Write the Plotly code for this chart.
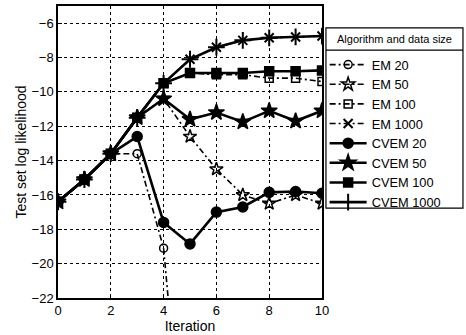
import plotly.graph_objects as go

iterations = list(range(11))
em20 = [-16.4, -15.1, -13.6, -13.6, -19.1, -36.0]
em50 = [-16.4, -15.1, -13.6, -11.5, -10.4, -12.6, -14.5, -16.0, -16.5, -16.0, -16.5]
em100 = [-16.4, -15.1, -13.6, -11.5, -9.5, -8.9, -9.0, -9.0, -9.2, -9.2, -9.4]
em1000 = [-16.4, -15.1, -13.6, -11.5, -9.5, -8.1, -7.4, -7.0, -6.85, -6.8, -6.75]
cvem20 = [-16.4, -15.1, -13.6, -12.6, -17.6, -18.85, -17.0, -16.7, -15.85, -15.8, -15.9]
cvem50 = [-16.4, -15.1, -13.6, -11.5, -10.4, -11.6, -11.2, -11.75, -11.1, -11.7, -11.1]
cvem100 = [-16.4, -15.1, -13.6, -11.5, -9.5, -8.9, -8.9, -8.9, -8.8, -8.8, -8.75]
cvem1000 = [-16.4, -15.1, -13.6, -11.5, -9.5, -8.1, -7.4, -7.0, -6.85, -6.8, -6.75]

series = [
    ("EM 20", em20, "circle-open", True, 8),
    ("EM 50", em50, "star-open", True, 10),
    ("EM 100", em100, "square-open", True, 8),
    ("EM 1000", em1000, "x-thin-open", True, 9),
    ("CVEM 20", cvem20, "circle", False, 10),
    ("CVEM 50", cvem50, "star", False, 12),
    ("CVEM 100", cvem100, "square", False, 9),
    ("CVEM 1000", cvem1000, "cross-thin-open", False, 12),
]

fig = go.Figure()
for name, vals, sym, dashed, size in series:
    fig.add_trace(go.Scatter(
        x=iterations[:len(vals)], y=vals, name=name, mode="lines+markers",
        line=dict(color="black", width=1.6 if dashed else 2.6,
                  dash="6px,3px,2px,3px" if dashed else "solid"),
        marker=dict(symbol=sym, size=size, color="black",
                    line=dict(color="black", width=2 if ("thin" in sym) else 1.5)),
    ))

font = "Liberation Sans, Arial, sans-serif"
fig.update_layout(
    width=466, height=335,
    margin=dict(l=58, r=144, t=6, b=37, autoexpand=False),
    paper_bgcolor="white", plot_bgcolor="white",
    font=dict(family=font, size=13, color="black"),
    showlegend=True,
    legend=dict(x=1.01, y=0.85, xanchor="left", yanchor="top",
                bgcolor="rgba(0,0,0,0)", borderwidth=0,
                font=dict(size=12.8, family=font), itemwidth=37,
                tracegroupgap=0),
    xaxis=dict(range=[0, 10], dtick=2, showgrid=True, gridcolor="black",
               griddash="dot", gridwidth=1, showline=True, linecolor="black",
               linewidth=1.5, mirror=True, ticks="inside", ticklen=4,
               tickcolor="black", zeroline=False, automargin=False,
               title=dict(text="Iteration", standoff=0, font=dict(size=14)),
               tickfont=dict(size=13)),
    yaxis=dict(range=[-22, -5], tickvals=list(range(-22, -5, 2)), showgrid=True,
               gridcolor="black", griddash="dot", gridwidth=1, showline=True,
               linecolor="black", linewidth=1.5, mirror=True, ticks="inside",
               ticklen=4, tickcolor="black", zeroline=False, automargin=False,
               title=dict(text="Test set log likelihood", standoff=2, font=dict(size=14)),
               tickfont=dict(size=13)),
    shapes=[
        dict(type="rect", xref="paper", yref="paper", x0=1.015, x1=1.534,
             y0=0.308, y1=0.925, line=dict(color="black", width=1.2),
             fillcolor="rgba(0,0,0,0)"),
        dict(type="line", xref="paper", yref="paper", x0=1.015, x1=1.534,
             y0=0.849, y1=0.849, line=dict(color="black", width=1.2)),
    ],
    annotations=[
        dict(text="Algorithm and data size", xref="paper", yref="paper",
             x=1.2745, y=0.887, xanchor="center", yanchor="middle",
             showarrow=False, font=dict(size=11, family=font)),
    ],
)

fig.write_html("out.html", config={"displayModeBar": False},
               post_script="document.body.style.margin='0';")
